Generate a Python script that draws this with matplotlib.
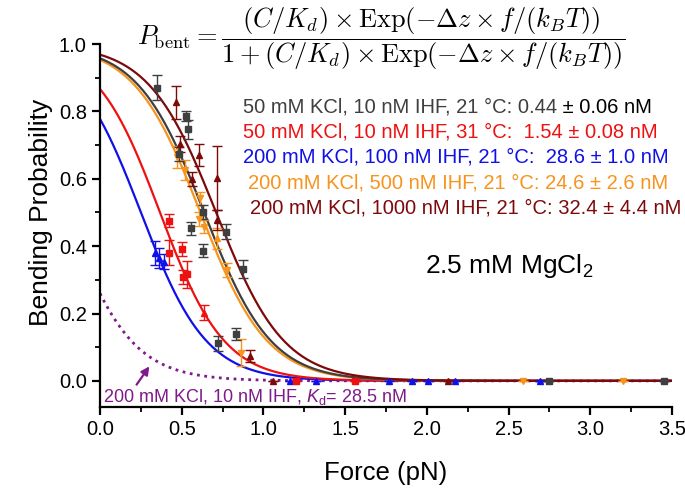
import numpy as np
import matplotlib
matplotlib.use("Agg")
import matplotlib.pyplot as plt
from matplotlib.ticker import MultipleLocator

plt.rcParams['font.family'] = ['Liberation Sans', 'DejaVu Sans']
plt.rcParams['mathtext.fontset'] = 'custom'
plt.rcParams['mathtext.rm'] = 'Liberation Sans'
plt.rcParams['mathtext.it'] = 'Liberation Sans:italic'

# fit parameters: IHF conc (nM), Kd (nM), dz (nm), kBT (pN nm)
kbt_21 = 4.06
kbt_31 = 4.20

# data (force pN, bending probability, error)
gray_f = [0.347, 0.485, 0.526, 0.537, 0.555, 0.632, 0.632, 0.724, 0.771, 0.830, 0.877, 2.745, 3.45]
gray_p = [0.871, 0.674, 0.787, 0.747, 0.453, 0.502, 0.387, 0.112, 0.443, 0.139, 0.331, 0.0, 0.0]
gray_e = [0.038, 0.020, 0.015, 0.028, 0.020, 0.020, 0.018, 0.022, 0.022, 0.019, 0.027, 0.0, 0.0]

red_f = [0.424, 0.424, 0.500, 0.506, 0.530, 1.20, 1.56]
red_p = [0.476, 0.381, 0.391, 0.308, 0.317, 0.0, 0.0]
red_e = [0.019, 0.037, 0.020, 0.020, 0.040, 0.0, 0.0]
red2_f = [0.636]
red2_p = [0.203]
red2_e = [0.023]

blue_f = [0.337, 0.361, 0.392, 1.163, 1.32, 1.77, 1.91, 2.01, 2.17, 2.69]
blue_p = [0.379, 0.364, 0.354, 0.0, 0.0, 0.0, 0.0, 0.0, 0.0, 0.0]
blue_e = [0.035, 0.030, 0.022, 0.0, 0.0, 0.0, 0.0, 0.0, 0.0, 0.0]

orange_f = [0.473, 0.520, 0.612, 0.608, 0.636, 0.775, 0.861, 2.59, 3.20]
orange_p = [0.664, 0.626, 0.542, 0.480, 0.458, 0.329, 0.083, 0.0, 0.0]
orange_e = [0.033, 0.030, 0.020, 0.020, 0.020, 0.020, 0.040, 0.0, 0.0]
orange2_f = [0.714]
orange2_p = [0.423]
orange2_e = [0.030]

dred_f = [0.465, 0.491, 0.561, 0.605, 0.714, 0.718, 0.918, 1.057, 2.13]
dred_p = [0.827, 0.703, 0.600, 0.671, 0.601, 0.478, 0.074, 0.0, 0.0]
dred_e = [0.050, 0.023, 0.020, 0.032, 0.095, 0.030, 0.018, 0.0, 0.0]

c_gray = '#3f3f3f'
c_red = '#ee1111'
c_blue = '#1010e8'
c_orange = '#f7941d'
c_dred = '#7d0a0a'
c_purple = '#7f1a8a'

fig = plt.figure(figsize=(6.85, 5.01), dpi=100)
ax = fig.add_axes([0.146, 0.188, 0.835, 0.724])

f = np.linspace(0, 3.5, 400)


def p_bent(conc, kd, dz, kbt):
    a = (conc / kd) * np.exp(-dz * f / kbt)
    return a / (1 + a)


ax.plot(f, p_bent(10, 28.5, 20.3, kbt_21), ':', color=c_purple, lw=2)
ax.plot(f, p_bent(100, 28.6, 20.3, kbt_21), color=c_blue, lw=1.6)
ax.plot(f, p_bent(10, 1.54, 21.4, kbt_31), color=c_red, lw=1.6)
ax.plot(f, p_bent(500, 24.6, 19.9, kbt_21), color=c_orange, lw=1.6)
ax.plot(f, p_bent(10, 0.44, 19.9, kbt_21), color=c_gray, lw=1.6)
ax.plot(f, p_bent(1000, 32.4, 19.6, kbt_21), color=c_dred, lw=1.6)

eb = dict(capsize=3.5, elinewidth=1, capthick=1, ls='none', ms=4.5)
ax.errorbar(blue_f, blue_p, yerr=blue_e, fmt='^', color=c_blue, **eb)
ax.errorbar(red_f, red_p, yerr=red_e, fmt='s', color=c_red, **eb)
ax.errorbar(red2_f, red2_p, yerr=red2_e, fmt='^', color=c_red, **eb)
ax.errorbar(orange_f, orange_p, yerr=orange_e, fmt='v', color=c_orange, **eb)
ax.errorbar(orange2_f, orange2_p, yerr=orange2_e, fmt='^', color=c_orange, **eb)
ax.errorbar(gray_f, gray_p, yerr=gray_e, fmt='s', color=c_gray, **eb)
ax.errorbar(dred_f, dred_p, yerr=dred_e, fmt='^', color=c_dred, **eb)

ax.set_xlim(0, 3.5)
ax.set_ylim(-0.077, 1.0)
for s in ['top', 'right']:
    ax.spines[s].set_visible(False)
for s in ['left', 'bottom']:
    ax.spines[s].set_linewidth(1.6)
ax.xaxis.set_major_locator(MultipleLocator(0.5))
ax.xaxis.set_minor_locator(MultipleLocator(0.25))
ax.yaxis.set_major_locator(MultipleLocator(0.2))
ax.yaxis.set_minor_locator(MultipleLocator(0.1))
ax.tick_params(which='major', direction='out', length=6, width=1.6, labelsize=14.5)
ax.tick_params(which='minor', direction='out', length=3.5, width=1.3)
ax.set_xticklabels([f'{v:.1f}' for v in ax.get_xticks()])

ax.set_xlabel('Force (pN)', fontsize=18.5)
ax.set_ylabel('Bending Probability', fontsize=19)
ax.xaxis.set_label_coords(0.5, -0.15)
ax.yaxis.set_label_coords(-0.083, 0.535)

# condition labels
fs = 14.5
t1 = ax.text(0.25, 0.826, '50 mM KCl, 10 nM IHF, 21 \u00b0C: 0.44', color=c_gray,
             fontsize=fs, transform=ax.transAxes, va='center')
ax.annotate(' \u00b1 0.06 nM', xy=(1, 0), xycoords=t1, va='bottom', ha='left',
            fontsize=fs, color='black')
ax.text(0.25, 0.758, '50 mM KCl, 10 nM IHF, 31 \u00b0C:  1.54 \u00b1 0.08 nM', color=c_red,
        fontsize=fs, transform=ax.transAxes, va='center')
ax.text(0.25, 0.689, '200 mM KCl, 100 nM IHF, 21 \u00b0C:  28.6 \u00b1 1.0 nM', color=c_blue,
        fontsize=fs, transform=ax.transAxes, va='center')
ax.text(0.259, 0.617, '200 mM KCl, 500 nM IHF, 21 \u00b0C: 24.6 \u00b1 2.6 nM', color=c_orange,
        fontsize=fs, transform=ax.transAxes, va='center')
ax.text(0.262, 0.548, '200 mM KCl, 1000 nM IHF, 21 \u00b0C: 32.4 \u00b1 4.4 nM', color=c_dred,
        fontsize=fs, transform=ax.transAxes, va='center')

ax.text(0.568, 0.388, '2.5 mM MgCl$_2$', fontsize=19, transform=ax.transAxes, va='center')

ax.text(0.005, 0.028, '200 mM KCl, 10 nM IHF, $K_{\\rm d}$= 28.5 nM', color=c_purple,
        fontsize=13, transform=ax.transAxes, va='center')
ax.annotate('', xy=(0.312, 0.05), xytext=(0.214, -0.018),
            arrowprops=dict(arrowstyle='-|>', color=c_purple, lw=1.6, mutation_scale=12))

formula = (r'$P_{\rm bent} = \dfrac{(C/K_d)\times {\rm Exp}(-\Delta z\times f/(k_BT))}'
           r'{1+(C/K_d)\times {\rm Exp}(-\Delta z\times f/(k_BT))}$')
ax.text(0.491, 1.015, formula, fontsize=19, math_fontfamily='cm', transform=ax.transAxes,
        ha='center', va='center')

fig.savefig('out.png', dpi=100)
